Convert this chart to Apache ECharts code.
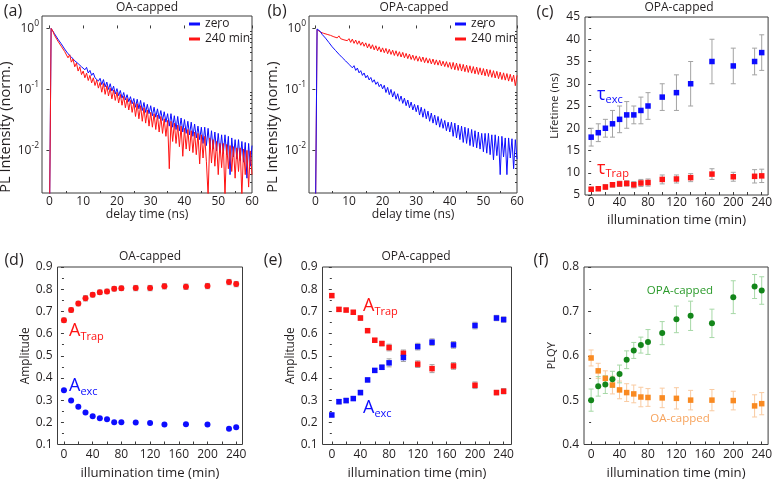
<!DOCTYPE html>
<html><head><meta charset="utf-8">
<script src="https://cdn.jsdelivr.net/npm/echarts@6/dist/echarts.min.js"></script>
<style>html,body{margin:0;padding:0;background:#fff}#c{width:775px;height:481px}</style>
</head><body><div id="c"></div>
<script>
// ---------- data: PL decays (delay time in ns) ----------
const times = [0,
0.5,1,1.5,2,2.5,3,3.5,4,4.5,5,
5.5,6,6.5,7,7.5,8,8.5,9,9.5,10,
10.5,11,11.5,12,12.5,13,13.5,14,14.5,15,
15.5,16,16.5,17,17.5,18,18.5,19,19.5,20,
20.5,21,21.5,22,22.5,23,23.5,24,24.5,25,
25.5,26,26.5,27,27.5,28,28.5,29,29.5,30,
30.5,31,31.5,32,32.5,33,33.5,34,34.5,35,
35.5,36,36.5,37,37.5,38,38.5,39,39.5,40,
40.5,41,41.5,42,42.5,43,43.5,44,44.5,45,
45.5,46,46.5,47,47.5,48,48.5,49,49.5,50,
50.5,51,51.5,52,52.5,53,53.5,54,54.5,55,
55.5,56,56.5,57,57.5,58,58.5,59,59.5,60];

// (a) OA-capped
const oaZero = [0.0005,
1.0,0.95,0.82,0.78,0.67,0.65,0.56,0.545,0.46,0.455,
0.385,0.405,0.34,0.36,0.295,0.315,0.265,0.28,0.235,0.25,
0.21,0.23,0.186,0.205,0.17,0.186,0.155,0.166,0.137,0.152,
0.12,0.145,0.11,0.132,0.10,0.124,0.094,0.113,0.084,0.103,
0.079,0.096,0.072,0.089,0.067,0.082,0.063,0.076,0.058,0.071,
0.051,0.069,0.048,0.066,0.045,0.061,0.042,0.057,0.040,0.054,
0.037,0.051,0.035,0.048,0.033,0.045,0.031,0.043,0.029,0.040,
0.025,0.040,0.024,0.037,0.022,0.036,0.021,0.034,0.020,0.032,
0.019,0.030,0.018,0.029,0.017,0.027,0.016,0.025,0.015,0.024,
0.013,0.024,0.012,0.023,0.011,0.021,0.0105,0.020,0.0098,0.019,
0.0092,0.018,0.0088,0.018,0.0085,0.017,0.004,0.016,0.0078,0.015,
0.0072,0.015,0.0068,0.014,0.0064,0.0135,0.0035,0.013,0.0055,0.012];
const oa240 = [0.0005,
1.0,0.91,0.77,0.73,0.62,0.60,0.51,0.49,0.42,0.41,
0.33,0.37,0.28,0.315,0.235,0.27,0.20,0.235,0.175,0.20,
0.155,0.185,0.14,0.17,0.128,0.155,0.116,0.142,0.105,0.13,
0.09,0.125,0.083,0.115,0.078,0.105,0.07,0.098,0.066,0.09,
0.06,0.083,0.055,0.077,0.05,0.071,0.046,0.066,0.042,0.061,
0.036,0.058,0.033,0.054,0.030,0.050,0.028,0.046,0.025,0.042,
0.024,0.040,0.022,0.038,0.020,0.036,0.019,0.033,0.017,0.031,
0.005,0.030,0.014,0.028,0.013,0.026,0.0115,0.025,0.008,0.023,
0.0105,0.022,0.0098,0.021,0.0092,0.020,0.0085,0.019,0.006,0.018,
0.0075,0.017,0.0065,0.0018,0.016,0.0062,0.015,0.0055,0.014,0.004,
0.013,0.0052,0.013,0.0018,0.0125,0.005,0.012,0.0045,0.0115,0.0035,
0.011,0.0045,0.011,0.0018,0.0105,0.004,0.010,0.0025,0.0098,0.004];
// (b) OPA-capped
const opaZero = [0.0005,
0.98,0.92,0.89,0.80,0.775,0.695,0.67,0.59,0.57,0.50,
0.49,0.435,0.43,0.378,0.373,0.332,0.33,0.293,0.29,0.258,
0.27,0.226,0.245,0.205,0.224,0.187,0.203,0.17,0.186,0.155,
0.17,0.143,0.157,0.131,0.144,0.121,0.133,0.111,0.122,0.102,
0.117,0.089,0.108,0.082,0.10,0.075,0.092,0.069,0.085,0.064,
0.078,0.059,0.072,0.054,0.067,0.050,0.062,0.046,0.057,0.043,
0.055,0.038,0.051,0.035,0.048,0.033,0.044,0.030,0.041,0.028,
0.038,0.026,0.036,0.024,0.033,0.023,0.031,0.021,0.029,0.020,
0.029,0.017,0.028,0.016,0.026,0.015,0.025,0.0135,0.024,0.013,
0.023,0.012,0.022,0.0115,0.021,0.011,0.020,0.0105,0.019,0.0095,
0.019,0.009,0.019,0.0085,0.018,0.007,0.018,0.0082,0.017,0.004,
0.017,0.0078,0.016,0.004,0.016,0.0075,0.0155,0.005,0.015,0.0072];
const opa240 = [0.0005,
0.96,0.93,0.87,0.89,0.83,0.86,0.80,0.83,0.77,0.80,
0.73,0.78,0.70,0.755,0.68,0.73,0.65,0.70,0.63,0.68,
0.59,0.67,0.57,0.645,0.55,0.625,0.53,0.60,0.51,0.58,
0.48,0.56,0.465,0.54,0.445,0.52,0.43,0.50,0.41,0.48,
0.40,0.47,0.385,0.455,0.375,0.44,0.36,0.43,0.35,0.415,
0.34,0.405,0.33,0.39,0.32,0.38,0.31,0.365,0.30,0.355,
0.29,0.345,0.285,0.34,0.275,0.33,0.27,0.32,0.262,0.315,
0.255,0.305,0.25,0.30,0.243,0.29,0.237,0.285,0.23,0.277,
0.215,0.277,0.21,0.27,0.205,0.263,0.20,0.257,0.195,0.25,
0.19,0.244,0.185,0.237,0.18,0.232,0.176,0.226,0.172,0.22,
0.167,0.215,0.163,0.21,0.158,0.203,0.154,0.198,0.15,0.192,
0.145,0.187,0.142,0.182,0.137,0.177,0.134,0.172,0.115,0.17];

// ---------- data: illumination series (min) ----------
const illum = [0,10,20,30,40,50,60,70,80,100,120,140,170,200,230,240];
// (c) lifetimes, OPA-capped (ns)
const tauExc    = [18,19,20,21,22,23,23,24,25,27,28,30,35,34,35,37];
const tauExcErr = [2,2,2,3,3,3,2,3,3,3,4,5,5,4,3,4];
const tauTrap    = [6.3,6.4,6.8,7.3,7.5,7.6,7.3,7.7,7.8,8.5,8.6,8.9,9.7,9.1,9.2,9.3];
const tauTrapErr = [0.4,0.4,0.5,0.5,0.6,0.6,0.7,0.8,0.8,1.0,0.9,0.9,1.2,1.0,1.5,1.5];
// (d) amplitudes, OA-capped
const aTrapOA    = [0.66,0.706,0.735,0.759,0.775,0.786,0.79,0.802,0.804,0.805,0.805,0.813,0.811,0.814,0.832,0.823];
const aTrapOAErr = [0.01,0.01,0.01,0.012,0.01,0.01,0.01,0.01,0.01,0.012,0.012,0.012,0.012,0.012,0.012,0.012];
const aExcOA     = [0.344,0.298,0.27,0.244,0.227,0.218,0.214,0.2,0.2,0.199,0.197,0.19,0.191,0.19,0.171,0.178];
// (e) amplitudes, OPA-capped
const aTrapOPA    = [0.771,0.709,0.706,0.696,0.67,0.613,0.57,0.555,0.537,0.511,0.462,0.442,0.454,0.367,0.334,0.34];
const aTrapOPAErr = [0.008,0.008,0.008,0.008,0.01,0.008,0.008,0.01,0.015,0.015,0.015,0.018,0.015,0.015,0.01,0.012];
const aExcOPA     = [0.233,0.293,0.298,0.307,0.334,0.391,0.434,0.448,0.468,0.492,0.541,0.561,0.549,0.636,0.67,0.663];
const aExcOPAErr  = [0.008,0.01,0.01,0.008,0.01,0.008,0.008,0.01,0.018,0.018,0.015,0.015,0.015,0.015,0.012,0.012];
// (f) PLQY
const plqyOPA    = [0.50,0.531,0.535,0.547,0.559,0.591,0.612,0.624,0.631,0.651,0.682,0.69,0.673,0.732,0.756,0.747];
const plqyOPAErr = [0.025,0.022,0.02,0.018,0.02,0.02,0.018,0.018,0.028,0.026,0.03,0.033,0.032,0.037,0.027,0.031];
const plqyOA     = [0.595,0.566,0.549,0.534,0.523,0.517,0.514,0.507,0.506,0.505,0.504,0.50,0.50,0.499,0.487,0.492];
const plqyOAErr  = [0.018,0.017,0.017,0.02,0.02,0.02,0.02,0.022,0.02,0.022,0.024,0.022,0.024,0.021,0.025,0.025];

// ---------- tick values ----------
const delayLabels = [0,10,20,30,40,50,60];
const delayMinor  = [5,15,25,35,45,55];
const illumTicks  = [0,20,40,60,80,100,120,140,160,180,200,220,240];
const illumLabels = [0,40,80,120,160,200,240];
const logMinorVals = [0.003,0.004,0.005,0.006,0.007,0.008,0.009,0.02,0.03,0.04,0.05,0.06,0.07,0.08,0.09,0.2,0.3,0.4,0.5,0.6,0.7,0.8,0.9];

// ---------- styling ----------
const FONT = '"Open Sans","DejaVu Sans",sans-serif';
const TXT = '#231f20', FRAME = '#3c3c3c';
const BLUE = '#0d0dff', RED = '#ff1414', GRAY = '#a3a3a3';
const GREEN = '#13861a', ORANGE = '#f98a22', LGREEN = '#a6d8a6', LORANGE = '#f9caa0';
const LOGMIN = 0.002, LOGMAX = 1.6;

const zip = (xs, ys) => xs.map((x, i) => [x, ys[i]]);

const gridBox = [
  {left: 42, top: 16, width: 210, height: 177},
  {left: 309, top: 16, width: 208, height: 177},
  {left: 585, top: 17, width: 186, height: 178},
  {left: 57.5, top: 267, width: 185, height: 177.5},
  {left: 322.5, top: 267, width: 189, height: 177.5},
  {left: 584, top: 267, width: 187, height: 177.5}
];
const grid = gridBox.map(g => Object.assign({show: true, borderColor: FRAME, borderWidth: 1, backgroundColor: 'transparent', containLabel: false}, g));

function xAx(gi, min, max, ticks, labels, name, gap, margin, nameSize) {
  return {type: 'value', gridIndex: gi, position: 'bottom', min: min, max: max,
    axisLine: {show: false}, splitLine: {show: false},
    axisTick: {show: true, inside: true, length: 3, customValues: ticks, lineStyle: {color: FRAME}},
    axisLabel: {show: true, customValues: labels, margin: margin, fontSize: 12, color: TXT, fontFamily: FONT},
    name: name, nameLocation: 'middle', nameGap: gap,
    nameTextStyle: {fontSize: nameSize, color: TXT, fontFamily: FONT}};
}
// second x axis of a grid is placed on top; shift it down onto the bottom frame, ticks pointing up (inward)
function xMinor(gi, min, max, ticks) {
  return {type: 'value', gridIndex: gi, position: 'top', offset: -gridBox[gi].height, min: min, max: max,
    axisLine: {show: false}, splitLine: {show: false}, axisLabel: {show: false},
    axisTick: {show: true, inside: false, length: 2, customValues: ticks, lineStyle: {color: FRAME}}};
}
function yAx(gi, min, max, interval, fmt, name, gap, nameSize) {
  return {type: 'value', gridIndex: gi, position: 'left', min: min, max: max, interval: interval,
    axisLine: {show: false}, splitLine: {show: false},
    axisTick: {show: true, inside: false, length: 3, lineStyle: {color: FRAME}},
    minorTick: {show: true, splitNumber: 2, length: 2, lineStyle: {color: FRAME}},
    axisLabel: {margin: 5, fontSize: 12, color: TXT, fontFamily: FONT, formatter: fmt},
    name: name, nameLocation: 'middle', nameGap: gap,
    nameTextStyle: {fontSize: nameSize, color: TXT, fontFamily: FONT}};
}
function yLog(gi) {
  return {type: 'log', logBase: 10, gridIndex: gi, position: 'left', min: LOGMIN, max: LOGMAX,
    axisLine: {show: false}, splitLine: {show: false}, minorTick: {show: false},
    axisTick: {show: true, inside: false, length: 3, lineStyle: {color: FRAME}},
    axisLabel: {showMinLabel: false, showMaxLabel: false, margin: 3,
      formatter: v => '{b|10}{s|' + Math.round(Math.log10(v)) + '}',
      rich: {b: {fontSize: 12, fontFamily: FONT, color: TXT, lineHeight: 18},
             s: {fontSize: 8.5, fontFamily: FONT, color: TXT, lineHeight: 10, verticalAlign: 'top'}}}};
}
// second y axis of a grid is placed on the right; shift it onto the left frame, ticks pointing left (outward)
function yLogMinor(gi) {
  return {type: 'value', gridIndex: gi, position: 'right', offset: -gridBox[gi].width,
    min: Math.log10(LOGMIN), max: Math.log10(LOGMAX),
    axisLine: {show: false}, splitLine: {show: false}, axisLabel: {show: false},
    axisTick: {show: true, inside: true, length: 2, customValues: logMinorVals.map(v => Math.log10(v)), lineStyle: {color: FRAME}}};
}
const f1 = v => v.toFixed(1);

const xAxis = [
  xAx(0, -2.2, 60, delayLabels, delayLabels, 'delay time (ns)', 13, 3, 12.2),
  xMinor(0, -2.2, 60, delayMinor),
  xAx(1, -1.9, 60, delayLabels, delayLabels, 'delay time (ns)', 13, 3, 12.2),
  xMinor(1, -1.9, 60, delayMinor),
  xAx(2, -8.7, 249, illumTicks, illumLabels, 'illumination time (min)', 18.5, 2, 13.2),
  xAx(3, -9, 248.8, illumTicks, illumLabels, 'illumination time (min)', 22, 4, 13.2),
  xAx(4, -13, 251, illumTicks, illumLabels, 'illumination time (min)', 22, 4, 13.2),
  xAx(5, -10, 249, illumTicks, illumLabels, 'illumination time (min)', 22, 4, 13.2)
];
const yAxis = [
  yLog(0), yLogMinor(0), yLog(1), yLogMinor(1),
  yAx(2, 5, 45, 5, null, 'Lifetime (ns)', 24, 11.5),
  yAx(3, 0.1, 0.9, 0.1, f1, 'Amplitude', 24.5, 11.8),
  yAx(4, 0.1, 0.9, 0.1, f1, 'Amplitude', 22, 11.8),
  yAx(5, 0.4, 0.8, 0.1, f1, 'PLQY', 27, 11)
];

function lineS(name, ai, data, color) {
  return {type: 'line', name: name, xAxisIndex: ai, yAxisIndex: ai, data: data, symbol: 'none', showSymbol: false,
    clip: true, silent: true, lineStyle: {color: color, width: 1}, itemStyle: {color: color}};
}
function errS(ai, xs, vals, errs, color) {
  return {type: 'custom', xAxisIndex: ai, yAxisIndex: ai, clip: true, silent: true,
    data: xs.map((x, i) => [x, vals[i] - errs[i], vals[i] + errs[i]]),
    encode: {x: 0, y: [1, 2]},
    renderItem: (params, api) => {
      const lo = api.coord([api.value(0), api.value(1)]);
      const hi = api.coord([api.value(0), api.value(2)]);
      const w = 2.5, st = {stroke: color, lineWidth: 1};
      return {type: 'group', children: [
        {type: 'line', shape: {x1: lo[0], y1: lo[1], x2: hi[0], y2: hi[1]}, style: st},
        {type: 'line', shape: {x1: lo[0] - w, y1: lo[1], x2: lo[0] + w, y2: lo[1]}, style: st},
        {type: 'line', shape: {x1: hi[0] - w, y1: hi[1], x2: hi[0] + w, y2: hi[1]}, style: st}
      ]};
    }};
}
function scatS(ai, xs, vals, color, symbol, size) {
  return {type: 'scatter', xAxisIndex: ai, yAxisIndex: ai, data: zip(xs, vals), symbol: symbol,
    symbolSize: size, silent: true, itemStyle: {color: color, opacity: 1}};
}

const series = [
  lineS('zero', 0, zip(times, oaZero), BLUE),
  lineS('240 min', 0, zip(times, oa240), RED),
  lineS('240 min', 2, zip(times, opa240), RED),
  lineS('zero', 2, zip(times, opaZero), BLUE),
  errS(4, illum, tauExc, tauExcErr, GRAY),
  errS(4, illum, tauTrap, tauTrapErr, GRAY),
  scatS(4, illum, tauExc, BLUE, 'rect', 5.5),
  scatS(4, illum, tauTrap, RED, 'rect', 5.5),
  errS(5, illum, aTrapOA, aTrapOAErr, GRAY),
  scatS(5, illum, aTrapOA, RED, 'circle', 6),
  scatS(5, illum, aExcOA, BLUE, 'circle', 6),
  errS(6, illum, aTrapOPA, aTrapOPAErr, GRAY),
  errS(6, illum, aExcOPA, aExcOPAErr, GRAY),
  scatS(6, illum, aTrapOPA, RED, 'rect', 5.5),
  scatS(6, illum, aExcOPA, BLUE, 'rect', 5.5),
  errS(7, illum, plqyOA, plqyOAErr, LORANGE),
  errS(7, illum, plqyOPA, plqyOPAErr, LGREEN),
  scatS(7, illum, plqyOA, ORANGE, 'rect', 5.5),
  scatS(7, illum, plqyOPA, GREEN, 'circle', 6)
];

function legendAt(left) {
  return {data: ['zero', '240 min'], left: left, top: 17, orient: 'vertical', icon: 'rect',
    itemWidth: 11, itemHeight: 3, itemGap: 1, padding: 0, selectedMode: false,
    textStyle: {fontSize: 12, color: TXT, fontFamily: FONT, lineHeight: 14}};
}

function T(text, x, y, size, color, extra) {
  return Object.assign({type: 'text', x: x, y: y, silent: true,
    style: {text: text, fontSize: size, fill: color || TXT, fontFamily: FONT, align: 'center', verticalAlign: 'middle'}}, extra || {});
}
function sub(main, s, x, y, color) {
  return {type: 'text', x: x, y: y, silent: true,
    style: {text: '{m|' + main + '}{s|' + s + '}', align: 'left', verticalAlign: 'middle', fontFamily: FONT, fill: color,
      rich: {m: {fontSize: 18, fontFamily: FONT, fill: color, lineHeight: 22},
             s: {fontSize: 11, fontFamily: FONT, fill: color, lineHeight: 12, verticalAlign: 'bottom'}}}};
}

const graphic = [
  T('(a)', 13, 11, 16), T('(b)', 277, 11, 16), T('(c)', 545, 12, 16),
  T('(d)', 14, 260, 16), T('(e)', 273, 260, 16), T('(f)', 541, 260, 16),
  T('OA-capped', 147, 7.5, 12), T('OPA-capped', 414, 7.5, 12), T('OPA-capped', 679, 7.5, 12),
  T('OA-capped', 150, 257, 12), T('OPA-capped', 416, 257, 12),
  T('PL Intensity (norm.)', 6, 127, 14.5, TXT, {rotation: Math.PI / 2}),
  T('PL Intensity (norm.)', 273, 127, 14.5, TXT, {rotation: Math.PI / 2}),
  sub('τ', 'exc', 597, 94.5, BLUE), sub('τ', 'Trap', 597, 168.5, RED),
  sub('A', 'Trap', 69, 331, RED), sub('A', 'exc', 69, 386, BLUE),
  sub('A', 'Trap', 363, 306, RED), sub('A', 'exc', 363, 408, BLUE),
  T('OPA-capped', 680, 291, 11.5, '#2a9a2a'), T('OA-capped', 680, 419, 11.5, '#f7a35c')
];

const chart = echarts.init(document.getElementById('c'), null, {renderer: 'canvas'});
chart.setOption({
  animation: false, backgroundColor: '#ffffff',
  textStyle: {fontFamily: FONT},
  grid: grid, xAxis: xAxis, yAxis: yAxis, series: series,
  legend: [legendAt(189), legendAt(455)],
  graphic: graphic
});
</script></body></html>
